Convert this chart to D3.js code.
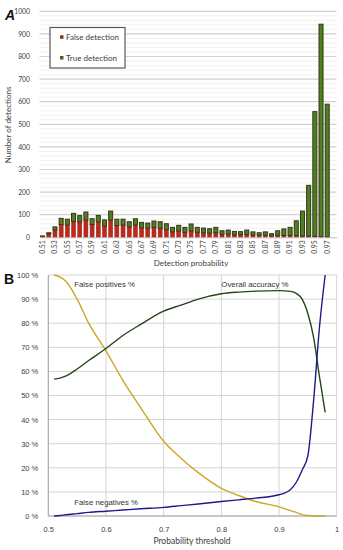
<!DOCTYPE html>
<html>
<head>
<meta charset="utf-8">
<script src="https://cdn.jsdelivr.net/npm/d3@7/dist/d3.min.js"></script>
<style>
  body { margin: 0; background: #fff; }
  svg text { font-family: Lato, "Liberation Sans", sans-serif; fill: #404040; }
  .arial { font-family: "Liberation Sans", Arial, sans-serif; }
</style>
</head>
<body>
<div id="chart"></div>
<script>
// ---- panel A: detections per probability bin ----
var probabilities = ["0.51","0.52","0.53","0.54","0.55","0.56","0.57","0.58","0.59","0.60",
  "0.61","0.62","0.63","0.64","0.65","0.66","0.67","0.68","0.69","0.70",
  "0.71","0.72","0.73","0.74","0.75","0.76","0.77","0.78","0.79","0.80",
  "0.81","0.82","0.83","0.84","0.85","0.86","0.87","0.88","0.89","0.90",
  "0.91","0.92","0.93","0.94","0.95","0.96","0.97","0.98"];
var falseDetections = [5,15,32,56,54,70,68,76,56,68,
  50,76,52,54,46,54,42,40,44,40,
  34,24,28,22,28,22,20,18,20,13,
  14,11,11,13,10,9,9,7,9,8,
  8,7,6,5,4,3,2,0];
var trueDetections = [1,5,14,28,26,36,28,36,26,29,
  27,40,28,26,23,28,24,23,28,29,
  26,20,25,22,31,22,21,20,24,16,
  18,15,14,19,14,11,15,9,20,29,
  36,66,110,225,552,940,587,0];
var countTicks = [0,100,200,300,400,500,600,700,800,900,1000];

// ---- panel B: rates against probability threshold ----
var thresholds = [0.51,0.52,0.53,0.55,0.57,0.60,0.63,0.66,0.70,0.73,0.76,
  0.80,0.83,0.86,0.90,0.92,0.93,0.94,0.95,0.96,0.97,0.98];
var falsePositives = [100,99.2,97.5,90,80,68.5,56,45,31,24,18,
  11.5,8.5,6,3.8,2.2,1.5,0.6,0.2,0,0,0];
var overallAccuracy = [56.8,57.2,58,61,64.5,69.5,75,79.5,85,87.5,90,
  92.2,92.9,93.3,93.5,93.2,92.4,90,84,74,58,43];
var falseNegatives = [0,0.2,0.5,1,1.5,2,2.5,3,3.6,4.3,5,
  6,6.7,7.4,8.8,11,14,19,25,48,78,100];
var percentTicks = [0,10,20,30,40,50,60,70,80,90,100];
var thresholdTicks = [0.5,0.6,0.7,0.8,0.9,1];

var svg = d3.select("#chart").append("svg")
  .attr("width", 343)
  .attr("height", 550);

// ================= panel A =================
var xA = d3.scaleBand()
  .domain(probabilities)
  .range([39.5, 336.5])
  .paddingInner(0.35)
  .paddingOuter(0.175);

var yA = d3.scaleLinear()
  .domain([0, 1000])
  .range([237.3, 11.3]);

var gA = svg.append("g");

// minor then major gridlines
gA.selectAll("line.minor")
  .data(d3.range(20, 1000, 20))
  .enter().append("line")
  .attr("x1", 39.5).attr("x2", 336.5)
  .attr("y1", d => yA(d)).attr("y2", d => yA(d))
  .attr("stroke", "#ececec").attr("stroke-width", 0.8);

gA.selectAll("line.major")
  .data(countTicks.slice(1))
  .enter().append("line")
  .attr("x1", 39.5).attr("x2", 336.5)
  .attr("y1", d => yA(d)).attr("y2", d => yA(d))
  .attr("stroke", "#d2d2d2").attr("stroke-width", 1.2);

// stacked bars: false at bottom, true on top
var bars = gA.selectAll("g.bar")
  .data(probabilities)
  .enter().append("g");

bars.append("rect")
  .attr("x", d => xA(d))
  .attr("width", xA.bandwidth())
  .attr("y", (d, i) => yA(falseDetections[i]))
  .attr("height", (d, i) => yA(0) - yA(falseDetections[i]))
  .attr("fill", "#c0281c")
  .attr("stroke", "#8a2216")
  .attr("stroke-width", 0.5);

bars.append("rect")
  .attr("x", d => xA(d))
  .attr("width", xA.bandwidth())
  .attr("y", (d, i) => yA(falseDetections[i] + trueDetections[i]))
  .attr("height", (d, i) => yA(falseDetections[i]) - yA(falseDetections[i] + trueDetections[i]))
  .attr("fill", "#4a8222")
  .attr("stroke", "#3d3316")
  .attr("stroke-width", 1);

// x axis
var xAxisA = gA.append("g")
  .attr("transform", `translate(0, ${yA(0)})`)
  .call(d3.axisBottom(xA)
    .tickValues(probabilities.filter((d, i) => i % 2 === 0))
    .tickSize(0));
xAxisA.select(".domain").attr("stroke", "#bdbdbd").attr("stroke-width", 1);
xAxisA.selectAll("text")
  .attr("transform", "rotate(-90)")
  .attr("text-anchor", "end")
  .attr("x", -3)
  .attr("y", 0)
  .attr("dy", "0.35em")
  .style("font-size", "6.8px");

// y axis labels
var yAxisA = gA.append("g")
  .attr("transform", "translate(33, 0)")
  .call(d3.axisLeft(yA).tickValues(countTicks).tickSize(0).tickFormat(d3.format("d")));
yAxisA.select(".domain").remove();
yAxisA.selectAll("text").style("font-size", "6.8px");

gA.append("text")
  .attr("transform", "translate(11, 125) rotate(-90)")
  .attr("text-anchor", "middle")
  .style("font-size", "8px")
  .text("Number of detections");

gA.append("text")
  .attr("x", 191).attr("y", 266)
  .attr("text-anchor", "middle")
  .style("font-size", "8px")
  .text("Detection probability");

gA.append("text")
  .attr("x", 5).attr("y", 20)
  .style("font-size", "14px")
  .style("font-weight", "bold")
  .style("font-style", "italic")
  .style("fill", "#111")
  .attr("class", "arial")
  .text("A");

// legend
var legend = gA.append("g");
legend.append("rect")
  .attr("x", 50).attr("y", 27.5)
  .attr("width", 75).attr("height", 40.5)
  .attr("fill", "#fff")
  .attr("stroke", "#595959").attr("stroke-width", 1.2);
var legendItems = [["False detection", "#7a3a16"], ["True detection", "#3d6a1e"]];
legendItems.forEach(function(item, i) {
  legend.append("rect")
    .attr("x", 60).attr("y", 35.3 + i * 20.7)
    .attr("width", 3.5).attr("height", 3.5)
    .attr("fill", item[1]);
  legend.append("text")
    .attr("x", 66).attr("y", 40 + i * 20.7)
    .style("font-size", "8px")
    .text(item[0]);
});

// ================= panel B =================
var xB = d3.scaleLinear().domain([0.5, 1]).range([48.3, 336.7]);
var yB = d3.scaleLinear().domain([0, 100]).range([516, 275]);

var gB = svg.append("g");

gB.selectAll("line.hgrid")
  .data(percentTicks)
  .enter().append("line")
  .attr("x1", xB(0.5)).attr("x2", xB(1))
  .attr("y1", d => yB(d)).attr("y2", d => yB(d))
  .attr("stroke", "#d4d4d4").attr("stroke-width", 1);

gB.selectAll("line.vgrid")
  .data(thresholdTicks)
  .enter().append("line")
  .attr("x1", d => xB(d)).attr("x2", d => xB(d))
  .attr("y1", yB(0)).attr("y2", yB(100))
  .attr("stroke", "#d4d4d4").attr("stroke-width", 1);

// axis lines
gB.append("line")
  .attr("x1", xB(0.5)).attr("x2", xB(0.5))
  .attr("y1", yB(0)).attr("y2", yB(100))
  .attr("stroke", "#a6a6a6");
gB.append("line")
  .attr("x1", xB(0.5)).attr("x2", xB(1))
  .attr("y1", yB(0)).attr("y2", yB(0))
  .attr("stroke", "#a6a6a6");

var yAxisB = gB.append("g")
  .attr("transform", `translate(${xB(0.5) - 7}, 0)`)
  .call(d3.axisLeft(yB).tickValues(percentTicks).tickSize(0).tickFormat(d => d + " %"));
yAxisB.select(".domain").remove();
yAxisB.selectAll("text").attr("class", "arial").style("font-size", "7.5px");

var xAxisB = gB.append("g")
  .attr("transform", `translate(0, ${yB(0) + 8})`)
  .call(d3.axisBottom(xB).tickValues(thresholdTicks).tickSize(0).tickFormat(d3.format("")));
xAxisB.select(".domain").remove();
xAxisB.selectAll("text").attr("class", "arial").style("font-size", "7.5px");

gB.append("text")
  .attr("x", 192).attr("y", 544)
  .attr("text-anchor", "middle")
  .style("font-size", "8.5px")
  .text("Probability threshold");

gB.append("text")
  .attr("x", 4).attr("y", 284)
  .style("font-size", "14px")
  .style("font-weight", "bold")
  .style("fill", "#111")
  .attr("class", "arial")
  .text("B");

svg.append("clipPath").attr("id", "clipB")
  .append("rect")
  .attr("x", xB(0.5)).attr("y", yB(100) - 1)
  .attr("width", xB(1) - xB(0.5)).attr("height", yB(0) - yB(100) + 2);

var series = [
  { values: falsePositives, color: "#c9a826" },
  { values: overallAccuracy, color: "#24461a" },
  { values: falseNegatives, color: "#1c1a8a" }
];

var lineGen = d3.line()
  .x(d => xB(d[0]))
  .y(d => yB(d[1]))
  .curve(d3.curveMonotoneX);

series.forEach(function(s) {
  gB.append("path")
    .datum(thresholds.map((t, i) => [t, s.values[i]]))
    .attr("clip-path", "url(#clipB)")
    .attr("fill", "none")
    .attr("stroke", s.color)
    .attr("stroke-width", 1.4)
    .attr("d", lineGen);
});

var curveLabels = [
  ["False positives %", 0.545, 287],
  ["Overall accuracy %", 0.8, 287],
  ["False negatives %", 0.545, 504.5]
];
gB.selectAll("text.curve-label")
  .data(curveLabels)
  .enter().append("text")
  .attr("class", "arial")
  .attr("x", d => xB(d[1]))
  .attr("y", d => d[2])
  .style("font-size", "7.8px")
  .style("fill", "#333")
  .text(d => d[0]);
</script>
</body>
</html>
